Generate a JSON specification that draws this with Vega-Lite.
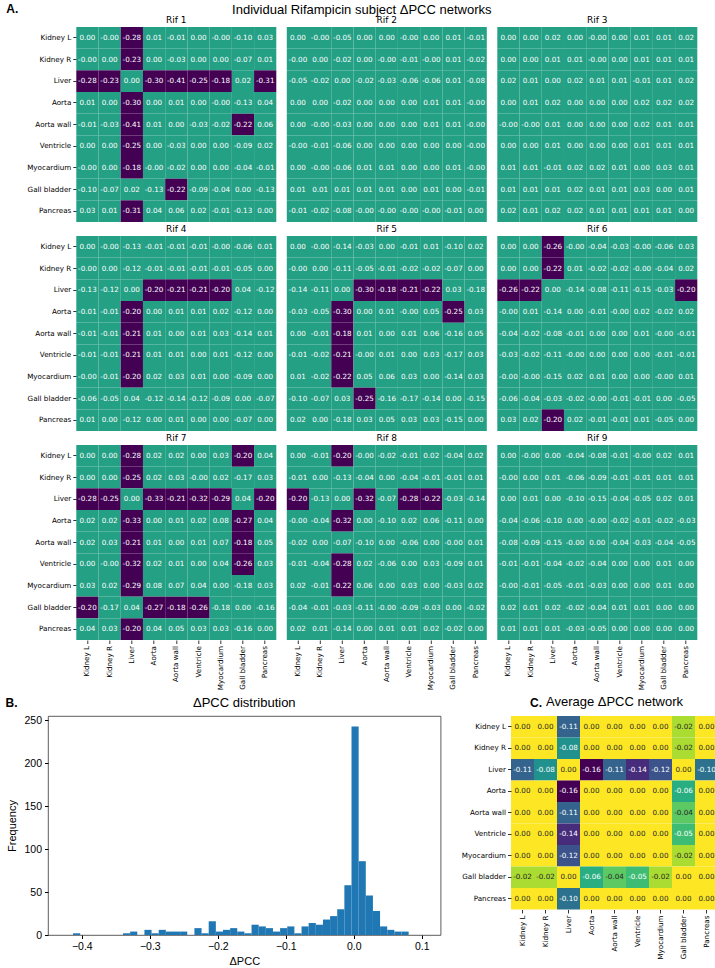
{
"$schema": "https://vega.github.io/schema/vega-lite/v6.json",
"padding": {"left": 5, "top": 3, "right": 0, "bottom": 0},
"background": "white",
"title": {"text": "Individual Rifampicin subject ΔPCC networks", "anchor": "middle", "font": "Liberation Sans", "fontSize": 13, "fontWeight": "normal", "color": "#000", "offset": -14},
"config": {
  "view": {"stroke": null},
  "font": "DejaVu Sans",
  "axis": {"grid": false, "tickColor": "#000", "labelColor": "#000", "domainColor": "#000", "titleColor": "#000", "titleFontWeight": "normal"},
  "title": {"color": "#000", "fontWeight": "normal"},
  "locale": {"number": {"decimal": ".", "thousands": ",", "grouping": [3], "currency": ["$", ""], "minus": "-"}}
},
"datasets": {
"hist": [
{"b0":-0.4129,"b1":-0.4024,"n":2},{"b0":-0.3394,"b1":-0.3289,"n":2},{"b0":-0.3289,"b1":-0.3184,"n":4},{"b0":-0.3079,"b1":-0.2974,"n":6},{"b0":-0.2974,"b1":-0.2869,"n":2},{"b0":-0.2869,"b1":-0.2764,"n":6},{"b0":-0.2764,"b1":-0.2659,"n":4},{"b0":-0.2659,"b1":-0.2554,"n":4},{"b0":-0.2554,"b1":-0.2449,"n":4},{"b0":-0.2344,"b1":-0.2239,"n":8},{"b0":-0.2239,"b1":-0.2134,"n":2},{"b0":-0.2134,"b1":-0.2029,"n":16},{"b0":-0.2029,"b1":-0.1924,"n":4},{"b0":-0.1924,"b1":-0.1819,"n":6},{"b0":-0.1819,"b1":-0.1714,"n":8},{"b0":-0.1714,"b1":-0.1609,"n":4},{"b0":-0.1609,"b1":-0.1504,"n":2},{"b0":-0.1504,"b1":-0.1399,"n":12},{"b0":-0.1399,"b1":-0.1294,"n":10},{"b0":-0.1294,"b1":-0.1189,"n":8},{"b0":-0.1189,"b1":-0.1084,"n":4},{"b0":-0.1084,"b1":-0.0979,"n":8},{"b0":-0.0979,"b1":-0.0874,"n":10},{"b0":-0.0874,"b1":-0.0769,"n":2},{"b0":-0.0769,"b1":-0.0664,"n":10},{"b0":-0.0664,"b1":-0.0559,"n":14},{"b0":-0.0559,"b1":-0.0454,"n":12},{"b0":-0.0454,"b1":-0.0349,"n":18},{"b0":-0.0349,"b1":-0.0244,"n":22},{"b0":-0.0244,"b1":-0.0139,"n":30},{"b0":-0.0139,"b1":-0.0034,"n":58},{"b0":-0.0034,"b1":0.0071,"n":243},{"b0":0.0071,"b1":0.0176,"n":86},{"b0":0.0176,"b1":0.0281,"n":46},{"b0":0.0281,"b1":0.0386,"n":28},{"b0":0.0386,"b1":0.0491,"n":10},{"b0":0.0491,"b1":0.0596,"n":6},{"b0":0.0596,"b1":0.0701,"n":4},{"b0":0.0701,"b1":0.0806,"n":4}
],
"avg": [
{"r":"Kidney L","c":"Kidney L","v":0},{"r":"Kidney L","c":"Kidney R","v":0},{"r":"Kidney L","c":"Liver","v":-0.11},{"r":"Kidney L","c":"Aorta","v":0},{"r":"Kidney L","c":"Aorta wall","v":0},{"r":"Kidney L","c":"Ventricle","v":0},{"r":"Kidney L","c":"Myocardium","v":0},{"r":"Kidney L","c":"Gall bladder","v":-0.02},{"r":"Kidney L","c":"Pancreas","v":0},
{"r":"Kidney R","c":"Kidney L","v":0},{"r":"Kidney R","c":"Kidney R","v":0},{"r":"Kidney R","c":"Liver","v":-0.08},{"r":"Kidney R","c":"Aorta","v":0},{"r":"Kidney R","c":"Aorta wall","v":0},{"r":"Kidney R","c":"Ventricle","v":0},{"r":"Kidney R","c":"Myocardium","v":0},{"r":"Kidney R","c":"Gall bladder","v":-0.02},{"r":"Kidney R","c":"Pancreas","v":0},
{"r":"Liver","c":"Kidney L","v":-0.11},{"r":"Liver","c":"Kidney R","v":-0.08},{"r":"Liver","c":"Liver","v":0},{"r":"Liver","c":"Aorta","v":-0.16},{"r":"Liver","c":"Aorta wall","v":-0.11},{"r":"Liver","c":"Ventricle","v":-0.14},{"r":"Liver","c":"Myocardium","v":-0.12},{"r":"Liver","c":"Gall bladder","v":0},{"r":"Liver","c":"Pancreas","v":-0.1},
{"r":"Aorta","c":"Kidney L","v":0},{"r":"Aorta","c":"Kidney R","v":0},{"r":"Aorta","c":"Liver","v":-0.16},{"r":"Aorta","c":"Aorta","v":0},{"r":"Aorta","c":"Aorta wall","v":0},{"r":"Aorta","c":"Ventricle","v":0},{"r":"Aorta","c":"Myocardium","v":0},{"r":"Aorta","c":"Gall bladder","v":-0.06},{"r":"Aorta","c":"Pancreas","v":0},
{"r":"Aorta wall","c":"Kidney L","v":0},{"r":"Aorta wall","c":"Kidney R","v":0},{"r":"Aorta wall","c":"Liver","v":-0.11},{"r":"Aorta wall","c":"Aorta","v":0},{"r":"Aorta wall","c":"Aorta wall","v":0},{"r":"Aorta wall","c":"Ventricle","v":0},{"r":"Aorta wall","c":"Myocardium","v":0},{"r":"Aorta wall","c":"Gall bladder","v":-0.04},{"r":"Aorta wall","c":"Pancreas","v":0},
{"r":"Ventricle","c":"Kidney L","v":0},{"r":"Ventricle","c":"Kidney R","v":0},{"r":"Ventricle","c":"Liver","v":-0.14},{"r":"Ventricle","c":"Aorta","v":0},{"r":"Ventricle","c":"Aorta wall","v":0},{"r":"Ventricle","c":"Ventricle","v":0},{"r":"Ventricle","c":"Myocardium","v":0},{"r":"Ventricle","c":"Gall bladder","v":-0.05},{"r":"Ventricle","c":"Pancreas","v":0},
{"r":"Myocardium","c":"Kidney L","v":0},{"r":"Myocardium","c":"Kidney R","v":0},{"r":"Myocardium","c":"Liver","v":-0.12},{"r":"Myocardium","c":"Aorta","v":0},{"r":"Myocardium","c":"Aorta wall","v":0},{"r":"Myocardium","c":"Ventricle","v":0},{"r":"Myocardium","c":"Myocardium","v":0},{"r":"Myocardium","c":"Gall bladder","v":-0.02},{"r":"Myocardium","c":"Pancreas","v":0},
{"r":"Gall bladder","c":"Kidney L","v":-0.02},{"r":"Gall bladder","c":"Kidney R","v":-0.02},{"r":"Gall bladder","c":"Liver","v":0},{"r":"Gall bladder","c":"Aorta","v":-0.06},{"r":"Gall bladder","c":"Aorta wall","v":-0.04},{"r":"Gall bladder","c":"Ventricle","v":-0.05},{"r":"Gall bladder","c":"Myocardium","v":-0.02},{"r":"Gall bladder","c":"Gall bladder","v":0},{"r":"Gall bladder","c":"Pancreas","v":0},
{"r":"Pancreas","c":"Kidney L","v":0},{"r":"Pancreas","c":"Kidney R","v":0},{"r":"Pancreas","c":"Liver","v":-0.1},{"r":"Pancreas","c":"Aorta","v":0},{"r":"Pancreas","c":"Aorta wall","v":0},{"r":"Pancreas","c":"Ventricle","v":0},{"r":"Pancreas","c":"Myocardium","v":0},{"r":"Pancreas","c":"Gall bladder","v":0},{"r":"Pancreas","c":"Pancreas","v":0}
],
"rif": [
{"s":"Rif 1","r":"Kidney L","c":"Kidney L","v":0},{"s":"Rif 1","r":"Kidney L","c":"Kidney R","v":-0.001},{"s":"Rif 1","r":"Kidney L","c":"Liver","v":-0.28},{"s":"Rif 1","r":"Kidney L","c":"Aorta","v":0.01},{"s":"Rif 1","r":"Kidney L","c":"Aorta wall","v":-0.01},{"s":"Rif 1","r":"Kidney L","c":"Ventricle","v":0},{"s":"Rif 1","r":"Kidney L","c":"Myocardium","v":-0.001},{"s":"Rif 1","r":"Kidney L","c":"Gall bladder","v":-0.1},{"s":"Rif 1","r":"Kidney L","c":"Pancreas","v":0.03},
{"s":"Rif 1","r":"Kidney R","c":"Kidney L","v":-0.001},{"s":"Rif 1","r":"Kidney R","c":"Kidney R","v":0},{"s":"Rif 1","r":"Kidney R","c":"Liver","v":-0.23},{"s":"Rif 1","r":"Kidney R","c":"Aorta","v":0},{"s":"Rif 1","r":"Kidney R","c":"Aorta wall","v":-0.03},{"s":"Rif 1","r":"Kidney R","c":"Ventricle","v":0},{"s":"Rif 1","r":"Kidney R","c":"Myocardium","v":0},{"s":"Rif 1","r":"Kidney R","c":"Gall bladder","v":-0.07},{"s":"Rif 1","r":"Kidney R","c":"Pancreas","v":0.01},
{"s":"Rif 1","r":"Liver","c":"Kidney L","v":-0.28},{"s":"Rif 1","r":"Liver","c":"Kidney R","v":-0.23},{"s":"Rif 1","r":"Liver","c":"Liver","v":0},{"s":"Rif 1","r":"Liver","c":"Aorta","v":-0.3},{"s":"Rif 1","r":"Liver","c":"Aorta wall","v":-0.41},{"s":"Rif 1","r":"Liver","c":"Ventricle","v":-0.25},{"s":"Rif 1","r":"Liver","c":"Myocardium","v":-0.18},{"s":"Rif 1","r":"Liver","c":"Gall bladder","v":0.02},{"s":"Rif 1","r":"Liver","c":"Pancreas","v":-0.31},
{"s":"Rif 1","r":"Aorta","c":"Kidney L","v":0.01},{"s":"Rif 1","r":"Aorta","c":"Kidney R","v":0},{"s":"Rif 1","r":"Aorta","c":"Liver","v":-0.3},{"s":"Rif 1","r":"Aorta","c":"Aorta","v":0},{"s":"Rif 1","r":"Aorta","c":"Aorta wall","v":0.01},{"s":"Rif 1","r":"Aorta","c":"Ventricle","v":0},{"s":"Rif 1","r":"Aorta","c":"Myocardium","v":-0.001},{"s":"Rif 1","r":"Aorta","c":"Gall bladder","v":-0.13},{"s":"Rif 1","r":"Aorta","c":"Pancreas","v":0.04},
{"s":"Rif 1","r":"Aorta wall","c":"Kidney L","v":-0.01},{"s":"Rif 1","r":"Aorta wall","c":"Kidney R","v":-0.03},{"s":"Rif 1","r":"Aorta wall","c":"Liver","v":-0.41},{"s":"Rif 1","r":"Aorta wall","c":"Aorta","v":0.01},{"s":"Rif 1","r":"Aorta wall","c":"Aorta wall","v":0},{"s":"Rif 1","r":"Aorta wall","c":"Ventricle","v":-0.03},{"s":"Rif 1","r":"Aorta wall","c":"Myocardium","v":-0.02},{"s":"Rif 1","r":"Aorta wall","c":"Gall bladder","v":-0.22},{"s":"Rif 1","r":"Aorta wall","c":"Pancreas","v":0.06},
{"s":"Rif 1","r":"Ventricle","c":"Kidney L","v":0},{"s":"Rif 1","r":"Ventricle","c":"Kidney R","v":0},{"s":"Rif 1","r":"Ventricle","c":"Liver","v":-0.25},{"s":"Rif 1","r":"Ventricle","c":"Aorta","v":0},{"s":"Rif 1","r":"Ventricle","c":"Aorta wall","v":-0.03},{"s":"Rif 1","r":"Ventricle","c":"Ventricle","v":0},{"s":"Rif 1","r":"Ventricle","c":"Myocardium","v":0},{"s":"Rif 1","r":"Ventricle","c":"Gall bladder","v":-0.09},{"s":"Rif 1","r":"Ventricle","c":"Pancreas","v":0.02},
{"s":"Rif 1","r":"Myocardium","c":"Kidney L","v":-0.001},{"s":"Rif 1","r":"Myocardium","c":"Kidney R","v":0},{"s":"Rif 1","r":"Myocardium","c":"Liver","v":-0.18},{"s":"Rif 1","r":"Myocardium","c":"Aorta","v":-0.001},{"s":"Rif 1","r":"Myocardium","c":"Aorta wall","v":-0.02},{"s":"Rif 1","r":"Myocardium","c":"Ventricle","v":0},{"s":"Rif 1","r":"Myocardium","c":"Myocardium","v":0},{"s":"Rif 1","r":"Myocardium","c":"Gall bladder","v":-0.04},{"s":"Rif 1","r":"Myocardium","c":"Pancreas","v":-0.01},
{"s":"Rif 1","r":"Gall bladder","c":"Kidney L","v":-0.1},{"s":"Rif 1","r":"Gall bladder","c":"Kidney R","v":-0.07},{"s":"Rif 1","r":"Gall bladder","c":"Liver","v":0.02},{"s":"Rif 1","r":"Gall bladder","c":"Aorta","v":-0.13},{"s":"Rif 1","r":"Gall bladder","c":"Aorta wall","v":-0.22},{"s":"Rif 1","r":"Gall bladder","c":"Ventricle","v":-0.09},{"s":"Rif 1","r":"Gall bladder","c":"Myocardium","v":-0.04},{"s":"Rif 1","r":"Gall bladder","c":"Gall bladder","v":0},{"s":"Rif 1","r":"Gall bladder","c":"Pancreas","v":-0.13},
{"s":"Rif 1","r":"Pancreas","c":"Kidney L","v":0.03},{"s":"Rif 1","r":"Pancreas","c":"Kidney R","v":0.01},{"s":"Rif 1","r":"Pancreas","c":"Liver","v":-0.31},{"s":"Rif 1","r":"Pancreas","c":"Aorta","v":0.04},{"s":"Rif 1","r":"Pancreas","c":"Aorta wall","v":0.06},{"s":"Rif 1","r":"Pancreas","c":"Ventricle","v":0.02},{"s":"Rif 1","r":"Pancreas","c":"Myocardium","v":-0.01},{"s":"Rif 1","r":"Pancreas","c":"Gall bladder","v":-0.13},{"s":"Rif 1","r":"Pancreas","c":"Pancreas","v":0},

{"s":"Rif 2","r":"Kidney L","c":"Kidney L","v":0},{"s":"Rif 2","r":"Kidney L","c":"Kidney R","v":-0.001},{"s":"Rif 2","r":"Kidney L","c":"Liver","v":-0.05},{"s":"Rif 2","r":"Kidney L","c":"Aorta","v":0},{"s":"Rif 2","r":"Kidney L","c":"Aorta wall","v":0},{"s":"Rif 2","r":"Kidney L","c":"Ventricle","v":-0.001},{"s":"Rif 2","r":"Kidney L","c":"Myocardium","v":0},{"s":"Rif 2","r":"Kidney L","c":"Gall bladder","v":0.01},{"s":"Rif 2","r":"Kidney L","c":"Pancreas","v":-0.01},
{"s":"Rif 2","r":"Kidney R","c":"Kidney L","v":-0.001},{"s":"Rif 2","r":"Kidney R","c":"Kidney R","v":0},{"s":"Rif 2","r":"Kidney R","c":"Liver","v":-0.02},{"s":"Rif 2","r":"Kidney R","c":"Aorta","v":0},{"s":"Rif 2","r":"Kidney R","c":"Aorta wall","v":-0.001},{"s":"Rif 2","r":"Kidney R","c":"Ventricle","v":-0.01},{"s":"Rif 2","r":"Kidney R","c":"Myocardium","v":-0.001},{"s":"Rif 2","r":"Kidney R","c":"Gall bladder","v":0.01},{"s":"Rif 2","r":"Kidney R","c":"Pancreas","v":-0.02},
{"s":"Rif 2","r":"Liver","c":"Kidney L","v":-0.05},{"s":"Rif 2","r":"Liver","c":"Kidney R","v":-0.02},{"s":"Rif 2","r":"Liver","c":"Liver","v":0},{"s":"Rif 2","r":"Liver","c":"Aorta","v":-0.02},{"s":"Rif 2","r":"Liver","c":"Aorta wall","v":-0.03},{"s":"Rif 2","r":"Liver","c":"Ventricle","v":-0.06},{"s":"Rif 2","r":"Liver","c":"Myocardium","v":-0.06},{"s":"Rif 2","r":"Liver","c":"Gall bladder","v":0.01},{"s":"Rif 2","r":"Liver","c":"Pancreas","v":-0.08},
{"s":"Rif 2","r":"Aorta","c":"Kidney L","v":0},{"s":"Rif 2","r":"Aorta","c":"Kidney R","v":0},{"s":"Rif 2","r":"Aorta","c":"Liver","v":-0.02},{"s":"Rif 2","r":"Aorta","c":"Aorta","v":0},{"s":"Rif 2","r":"Aorta","c":"Aorta wall","v":0},{"s":"Rif 2","r":"Aorta","c":"Ventricle","v":0},{"s":"Rif 2","r":"Aorta","c":"Myocardium","v":0.01},{"s":"Rif 2","r":"Aorta","c":"Gall bladder","v":0.01},{"s":"Rif 2","r":"Aorta","c":"Pancreas","v":-0.001},
{"s":"Rif 2","r":"Aorta wall","c":"Kidney L","v":0},{"s":"Rif 2","r":"Aorta wall","c":"Kidney R","v":-0.001},{"s":"Rif 2","r":"Aorta wall","c":"Liver","v":-0.03},{"s":"Rif 2","r":"Aorta wall","c":"Aorta","v":0},{"s":"Rif 2","r":"Aorta wall","c":"Aorta wall","v":0},{"s":"Rif 2","r":"Aorta wall","c":"Ventricle","v":0},{"s":"Rif 2","r":"Aorta wall","c":"Myocardium","v":0.01},{"s":"Rif 2","r":"Aorta wall","c":"Gall bladder","v":0.01},{"s":"Rif 2","r":"Aorta wall","c":"Pancreas","v":-0.001},
{"s":"Rif 2","r":"Ventricle","c":"Kidney L","v":-0.001},{"s":"Rif 2","r":"Ventricle","c":"Kidney R","v":-0.01},{"s":"Rif 2","r":"Ventricle","c":"Liver","v":-0.06},{"s":"Rif 2","r":"Ventricle","c":"Aorta","v":0},{"s":"Rif 2","r":"Ventricle","c":"Aorta wall","v":0},{"s":"Rif 2","r":"Ventricle","c":"Ventricle","v":0},{"s":"Rif 2","r":"Ventricle","c":"Myocardium","v":0},{"s":"Rif 2","r":"Ventricle","c":"Gall bladder","v":0},{"s":"Rif 2","r":"Ventricle","c":"Pancreas","v":-0.001},
{"s":"Rif 2","r":"Myocardium","c":"Kidney L","v":0},{"s":"Rif 2","r":"Myocardium","c":"Kidney R","v":-0.001},{"s":"Rif 2","r":"Myocardium","c":"Liver","v":-0.06},{"s":"Rif 2","r":"Myocardium","c":"Aorta","v":0.01},{"s":"Rif 2","r":"Myocardium","c":"Aorta wall","v":0.01},{"s":"Rif 2","r":"Myocardium","c":"Ventricle","v":0},{"s":"Rif 2","r":"Myocardium","c":"Myocardium","v":0},{"s":"Rif 2","r":"Myocardium","c":"Gall bladder","v":0.01},{"s":"Rif 2","r":"Myocardium","c":"Pancreas","v":-0.001},
{"s":"Rif 2","r":"Gall bladder","c":"Kidney L","v":0.01},{"s":"Rif 2","r":"Gall bladder","c":"Kidney R","v":0.01},{"s":"Rif 2","r":"Gall bladder","c":"Liver","v":0.01},{"s":"Rif 2","r":"Gall bladder","c":"Aorta","v":0.01},{"s":"Rif 2","r":"Gall bladder","c":"Aorta wall","v":0.01},{"s":"Rif 2","r":"Gall bladder","c":"Ventricle","v":0},{"s":"Rif 2","r":"Gall bladder","c":"Myocardium","v":0.01},{"s":"Rif 2","r":"Gall bladder","c":"Gall bladder","v":0},{"s":"Rif 2","r":"Gall bladder","c":"Pancreas","v":-0.01},
{"s":"Rif 2","r":"Pancreas","c":"Kidney L","v":-0.01},{"s":"Rif 2","r":"Pancreas","c":"Kidney R","v":-0.02},{"s":"Rif 2","r":"Pancreas","c":"Liver","v":-0.08},{"s":"Rif 2","r":"Pancreas","c":"Aorta","v":-0.001},{"s":"Rif 2","r":"Pancreas","c":"Aorta wall","v":-0.001},{"s":"Rif 2","r":"Pancreas","c":"Ventricle","v":-0.001},{"s":"Rif 2","r":"Pancreas","c":"Myocardium","v":-0.001},{"s":"Rif 2","r":"Pancreas","c":"Gall bladder","v":-0.01},{"s":"Rif 2","r":"Pancreas","c":"Pancreas","v":0},

{"s":"Rif 3","r":"Kidney L","c":"Kidney L","v":0},{"s":"Rif 3","r":"Kidney L","c":"Kidney R","v":0},{"s":"Rif 3","r":"Kidney L","c":"Liver","v":0.02},{"s":"Rif 3","r":"Kidney L","c":"Aorta","v":0},{"s":"Rif 3","r":"Kidney L","c":"Aorta wall","v":-0.001},{"s":"Rif 3","r":"Kidney L","c":"Ventricle","v":0},{"s":"Rif 3","r":"Kidney L","c":"Myocardium","v":0.01},{"s":"Rif 3","r":"Kidney L","c":"Gall bladder","v":0.01},{"s":"Rif 3","r":"Kidney L","c":"Pancreas","v":0.02},
{"s":"Rif 3","r":"Kidney R","c":"Kidney L","v":0},{"s":"Rif 3","r":"Kidney R","c":"Kidney R","v":0},{"s":"Rif 3","r":"Kidney R","c":"Liver","v":0.01},{"s":"Rif 3","r":"Kidney R","c":"Aorta","v":0.01},{"s":"Rif 3","r":"Kidney R","c":"Aorta wall","v":-0.001},{"s":"Rif 3","r":"Kidney R","c":"Ventricle","v":0},{"s":"Rif 3","r":"Kidney R","c":"Myocardium","v":0.01},{"s":"Rif 3","r":"Kidney R","c":"Gall bladder","v":0.01},{"s":"Rif 3","r":"Kidney R","c":"Pancreas","v":0.01},
{"s":"Rif 3","r":"Liver","c":"Kidney L","v":0.02},{"s":"Rif 3","r":"Liver","c":"Kidney R","v":0.01},{"s":"Rif 3","r":"Liver","c":"Liver","v":0},{"s":"Rif 3","r":"Liver","c":"Aorta","v":0.02},{"s":"Rif 3","r":"Liver","c":"Aorta wall","v":0.01},{"s":"Rif 3","r":"Liver","c":"Ventricle","v":0.01},{"s":"Rif 3","r":"Liver","c":"Myocardium","v":-0.01},{"s":"Rif 3","r":"Liver","c":"Gall bladder","v":0.01},{"s":"Rif 3","r":"Liver","c":"Pancreas","v":0.02},
{"s":"Rif 3","r":"Aorta","c":"Kidney L","v":0},{"s":"Rif 3","r":"Aorta","c":"Kidney R","v":0.01},{"s":"Rif 3","r":"Aorta","c":"Liver","v":0.02},{"s":"Rif 3","r":"Aorta","c":"Aorta","v":0},{"s":"Rif 3","r":"Aorta","c":"Aorta wall","v":0},{"s":"Rif 3","r":"Aorta","c":"Ventricle","v":0},{"s":"Rif 3","r":"Aorta","c":"Myocardium","v":0.02},{"s":"Rif 3","r":"Aorta","c":"Gall bladder","v":0.02},{"s":"Rif 3","r":"Aorta","c":"Pancreas","v":0.02},
{"s":"Rif 3","r":"Aorta wall","c":"Kidney L","v":-0.001},{"s":"Rif 3","r":"Aorta wall","c":"Kidney R","v":-0.001},{"s":"Rif 3","r":"Aorta wall","c":"Liver","v":0.01},{"s":"Rif 3","r":"Aorta wall","c":"Aorta","v":0},{"s":"Rif 3","r":"Aorta wall","c":"Aorta wall","v":0},{"s":"Rif 3","r":"Aorta wall","c":"Ventricle","v":0},{"s":"Rif 3","r":"Aorta wall","c":"Myocardium","v":0.02},{"s":"Rif 3","r":"Aorta wall","c":"Gall bladder","v":0.01},{"s":"Rif 3","r":"Aorta wall","c":"Pancreas","v":0.01},
{"s":"Rif 3","r":"Ventricle","c":"Kidney L","v":0},{"s":"Rif 3","r":"Ventricle","c":"Kidney R","v":0},{"s":"Rif 3","r":"Ventricle","c":"Liver","v":0.01},{"s":"Rif 3","r":"Ventricle","c":"Aorta","v":0},{"s":"Rif 3","r":"Ventricle","c":"Aorta wall","v":0},{"s":"Rif 3","r":"Ventricle","c":"Ventricle","v":0},{"s":"Rif 3","r":"Ventricle","c":"Myocardium","v":0.01},{"s":"Rif 3","r":"Ventricle","c":"Gall bladder","v":0.01},{"s":"Rif 3","r":"Ventricle","c":"Pancreas","v":0.01},
{"s":"Rif 3","r":"Myocardium","c":"Kidney L","v":0.01},{"s":"Rif 3","r":"Myocardium","c":"Kidney R","v":0.01},{"s":"Rif 3","r":"Myocardium","c":"Liver","v":-0.01},{"s":"Rif 3","r":"Myocardium","c":"Aorta","v":0.02},{"s":"Rif 3","r":"Myocardium","c":"Aorta wall","v":0.02},{"s":"Rif 3","r":"Myocardium","c":"Ventricle","v":0.01},{"s":"Rif 3","r":"Myocardium","c":"Myocardium","v":0},{"s":"Rif 3","r":"Myocardium","c":"Gall bladder","v":0.03},{"s":"Rif 3","r":"Myocardium","c":"Pancreas","v":0.01},
{"s":"Rif 3","r":"Gall bladder","c":"Kidney L","v":0.01},{"s":"Rif 3","r":"Gall bladder","c":"Kidney R","v":0.01},{"s":"Rif 3","r":"Gall bladder","c":"Liver","v":0.01},{"s":"Rif 3","r":"Gall bladder","c":"Aorta","v":0.02},{"s":"Rif 3","r":"Gall bladder","c":"Aorta wall","v":0.01},{"s":"Rif 3","r":"Gall bladder","c":"Ventricle","v":0.01},{"s":"Rif 3","r":"Gall bladder","c":"Myocardium","v":0.03},{"s":"Rif 3","r":"Gall bladder","c":"Gall bladder","v":0},{"s":"Rif 3","r":"Gall bladder","c":"Pancreas","v":0.01},
{"s":"Rif 3","r":"Pancreas","c":"Kidney L","v":0.02},{"s":"Rif 3","r":"Pancreas","c":"Kidney R","v":0.01},{"s":"Rif 3","r":"Pancreas","c":"Liver","v":0.02},{"s":"Rif 3","r":"Pancreas","c":"Aorta","v":0.02},{"s":"Rif 3","r":"Pancreas","c":"Aorta wall","v":0.01},{"s":"Rif 3","r":"Pancreas","c":"Ventricle","v":0.01},{"s":"Rif 3","r":"Pancreas","c":"Myocardium","v":0.01},{"s":"Rif 3","r":"Pancreas","c":"Gall bladder","v":0.01},{"s":"Rif 3","r":"Pancreas","c":"Pancreas","v":0},

{"s":"Rif 4","r":"Kidney L","c":"Kidney L","v":0},{"s":"Rif 4","r":"Kidney L","c":"Kidney R","v":-0.001},{"s":"Rif 4","r":"Kidney L","c":"Liver","v":-0.13},{"s":"Rif 4","r":"Kidney L","c":"Aorta","v":-0.01},{"s":"Rif 4","r":"Kidney L","c":"Aorta wall","v":-0.01},{"s":"Rif 4","r":"Kidney L","c":"Ventricle","v":-0.01},{"s":"Rif 4","r":"Kidney L","c":"Myocardium","v":-0.001},{"s":"Rif 4","r":"Kidney L","c":"Gall bladder","v":-0.06},{"s":"Rif 4","r":"Kidney L","c":"Pancreas","v":0.01},
{"s":"Rif 4","r":"Kidney R","c":"Kidney L","v":-0.001},{"s":"Rif 4","r":"Kidney R","c":"Kidney R","v":0},{"s":"Rif 4","r":"Kidney R","c":"Liver","v":-0.12},{"s":"Rif 4","r":"Kidney R","c":"Aorta","v":-0.01},{"s":"Rif 4","r":"Kidney R","c":"Aorta wall","v":-0.01},{"s":"Rif 4","r":"Kidney R","c":"Ventricle","v":-0.01},{"s":"Rif 4","r":"Kidney R","c":"Myocardium","v":-0.01},{"s":"Rif 4","r":"Kidney R","c":"Gall bladder","v":-0.05},{"s":"Rif 4","r":"Kidney R","c":"Pancreas","v":0},
{"s":"Rif 4","r":"Liver","c":"Kidney L","v":-0.13},{"s":"Rif 4","r":"Liver","c":"Kidney R","v":-0.12},{"s":"Rif 4","r":"Liver","c":"Liver","v":0},{"s":"Rif 4","r":"Liver","c":"Aorta","v":-0.2},{"s":"Rif 4","r":"Liver","c":"Aorta wall","v":-0.21},{"s":"Rif 4","r":"Liver","c":"Ventricle","v":-0.21},{"s":"Rif 4","r":"Liver","c":"Myocardium","v":-0.2},{"s":"Rif 4","r":"Liver","c":"Gall bladder","v":0.04},{"s":"Rif 4","r":"Liver","c":"Pancreas","v":-0.12},
{"s":"Rif 4","r":"Aorta","c":"Kidney L","v":-0.01},{"s":"Rif 4","r":"Aorta","c":"Kidney R","v":-0.01},{"s":"Rif 4","r":"Aorta","c":"Liver","v":-0.2},{"s":"Rif 4","r":"Aorta","c":"Aorta","v":0},{"s":"Rif 4","r":"Aorta","c":"Aorta wall","v":0.01},{"s":"Rif 4","r":"Aorta","c":"Ventricle","v":0.01},{"s":"Rif 4","r":"Aorta","c":"Myocardium","v":0.02},{"s":"Rif 4","r":"Aorta","c":"Gall bladder","v":-0.12},{"s":"Rif 4","r":"Aorta","c":"Pancreas","v":0},
{"s":"Rif 4","r":"Aorta wall","c":"Kidney L","v":-0.01},{"s":"Rif 4","r":"Aorta wall","c":"Kidney R","v":-0.01},{"s":"Rif 4","r":"Aorta wall","c":"Liver","v":-0.21},{"s":"Rif 4","r":"Aorta wall","c":"Aorta","v":0.01},{"s":"Rif 4","r":"Aorta wall","c":"Aorta wall","v":0},{"s":"Rif 4","r":"Aorta wall","c":"Ventricle","v":0.01},{"s":"Rif 4","r":"Aorta wall","c":"Myocardium","v":0.03},{"s":"Rif 4","r":"Aorta wall","c":"Gall bladder","v":-0.14},{"s":"Rif 4","r":"Aorta wall","c":"Pancreas","v":0.01},
{"s":"Rif 4","r":"Ventricle","c":"Kidney L","v":-0.01},{"s":"Rif 4","r":"Ventricle","c":"Kidney R","v":-0.01},{"s":"Rif 4","r":"Ventricle","c":"Liver","v":-0.21},{"s":"Rif 4","r":"Ventricle","c":"Aorta","v":0.01},{"s":"Rif 4","r":"Ventricle","c":"Aorta wall","v":0.01},{"s":"Rif 4","r":"Ventricle","c":"Ventricle","v":0},{"s":"Rif 4","r":"Ventricle","c":"Myocardium","v":0.01},{"s":"Rif 4","r":"Ventricle","c":"Gall bladder","v":-0.12},{"s":"Rif 4","r":"Ventricle","c":"Pancreas","v":0},
{"s":"Rif 4","r":"Myocardium","c":"Kidney L","v":-0.001},{"s":"Rif 4","r":"Myocardium","c":"Kidney R","v":-0.01},{"s":"Rif 4","r":"Myocardium","c":"Liver","v":-0.2},{"s":"Rif 4","r":"Myocardium","c":"Aorta","v":0.02},{"s":"Rif 4","r":"Myocardium","c":"Aorta wall","v":0.03},{"s":"Rif 4","r":"Myocardium","c":"Ventricle","v":0.01},{"s":"Rif 4","r":"Myocardium","c":"Myocardium","v":0},{"s":"Rif 4","r":"Myocardium","c":"Gall bladder","v":-0.09},{"s":"Rif 4","r":"Myocardium","c":"Pancreas","v":0},
{"s":"Rif 4","r":"Gall bladder","c":"Kidney L","v":-0.06},{"s":"Rif 4","r":"Gall bladder","c":"Kidney R","v":-0.05},{"s":"Rif 4","r":"Gall bladder","c":"Liver","v":0.04},{"s":"Rif 4","r":"Gall bladder","c":"Aorta","v":-0.12},{"s":"Rif 4","r":"Gall bladder","c":"Aorta wall","v":-0.14},{"s":"Rif 4","r":"Gall bladder","c":"Ventricle","v":-0.12},{"s":"Rif 4","r":"Gall bladder","c":"Myocardium","v":-0.09},{"s":"Rif 4","r":"Gall bladder","c":"Gall bladder","v":0},{"s":"Rif 4","r":"Gall bladder","c":"Pancreas","v":-0.07},
{"s":"Rif 4","r":"Pancreas","c":"Kidney L","v":0.01},{"s":"Rif 4","r":"Pancreas","c":"Kidney R","v":0},{"s":"Rif 4","r":"Pancreas","c":"Liver","v":-0.12},{"s":"Rif 4","r":"Pancreas","c":"Aorta","v":0},{"s":"Rif 4","r":"Pancreas","c":"Aorta wall","v":0.01},{"s":"Rif 4","r":"Pancreas","c":"Ventricle","v":0},{"s":"Rif 4","r":"Pancreas","c":"Myocardium","v":0},{"s":"Rif 4","r":"Pancreas","c":"Gall bladder","v":-0.07},{"s":"Rif 4","r":"Pancreas","c":"Pancreas","v":0},

{"s":"Rif 5","r":"Kidney L","c":"Kidney L","v":0},{"s":"Rif 5","r":"Kidney L","c":"Kidney R","v":-0.001},{"s":"Rif 5","r":"Kidney L","c":"Liver","v":-0.14},{"s":"Rif 5","r":"Kidney L","c":"Aorta","v":-0.03},{"s":"Rif 5","r":"Kidney L","c":"Aorta wall","v":0},{"s":"Rif 5","r":"Kidney L","c":"Ventricle","v":-0.01},{"s":"Rif 5","r":"Kidney L","c":"Myocardium","v":0.01},{"s":"Rif 5","r":"Kidney L","c":"Gall bladder","v":-0.1},{"s":"Rif 5","r":"Kidney L","c":"Pancreas","v":0.02},
{"s":"Rif 5","r":"Kidney R","c":"Kidney L","v":-0.001},{"s":"Rif 5","r":"Kidney R","c":"Kidney R","v":0},{"s":"Rif 5","r":"Kidney R","c":"Liver","v":-0.11},{"s":"Rif 5","r":"Kidney R","c":"Aorta","v":-0.05},{"s":"Rif 5","r":"Kidney R","c":"Aorta wall","v":-0.01},{"s":"Rif 5","r":"Kidney R","c":"Ventricle","v":-0.02},{"s":"Rif 5","r":"Kidney R","c":"Myocardium","v":-0.02},{"s":"Rif 5","r":"Kidney R","c":"Gall bladder","v":-0.07},{"s":"Rif 5","r":"Kidney R","c":"Pancreas","v":0},
{"s":"Rif 5","r":"Liver","c":"Kidney L","v":-0.14},{"s":"Rif 5","r":"Liver","c":"Kidney R","v":-0.11},{"s":"Rif 5","r":"Liver","c":"Liver","v":0},{"s":"Rif 5","r":"Liver","c":"Aorta","v":-0.3},{"s":"Rif 5","r":"Liver","c":"Aorta wall","v":-0.18},{"s":"Rif 5","r":"Liver","c":"Ventricle","v":-0.21},{"s":"Rif 5","r":"Liver","c":"Myocardium","v":-0.22},{"s":"Rif 5","r":"Liver","c":"Gall bladder","v":0.03},{"s":"Rif 5","r":"Liver","c":"Pancreas","v":-0.176},
{"s":"Rif 5","r":"Aorta","c":"Kidney L","v":-0.03},{"s":"Rif 5","r":"Aorta","c":"Kidney R","v":-0.05},{"s":"Rif 5","r":"Aorta","c":"Liver","v":-0.3},{"s":"Rif 5","r":"Aorta","c":"Aorta","v":0},{"s":"Rif 5","r":"Aorta","c":"Aorta wall","v":0.01},{"s":"Rif 5","r":"Aorta","c":"Ventricle","v":-0.001},{"s":"Rif 5","r":"Aorta","c":"Myocardium","v":0.05},{"s":"Rif 5","r":"Aorta","c":"Gall bladder","v":-0.25},{"s":"Rif 5","r":"Aorta","c":"Pancreas","v":0.03},
{"s":"Rif 5","r":"Aorta wall","c":"Kidney L","v":0},{"s":"Rif 5","r":"Aorta wall","c":"Kidney R","v":-0.01},{"s":"Rif 5","r":"Aorta wall","c":"Liver","v":-0.18},{"s":"Rif 5","r":"Aorta wall","c":"Aorta","v":0.01},{"s":"Rif 5","r":"Aorta wall","c":"Aorta wall","v":0},{"s":"Rif 5","r":"Aorta wall","c":"Ventricle","v":0.01},{"s":"Rif 5","r":"Aorta wall","c":"Myocardium","v":0.06},{"s":"Rif 5","r":"Aorta wall","c":"Gall bladder","v":-0.16},{"s":"Rif 5","r":"Aorta wall","c":"Pancreas","v":0.05},
{"s":"Rif 5","r":"Ventricle","c":"Kidney L","v":-0.01},{"s":"Rif 5","r":"Ventricle","c":"Kidney R","v":-0.02},{"s":"Rif 5","r":"Ventricle","c":"Liver","v":-0.21},{"s":"Rif 5","r":"Ventricle","c":"Aorta","v":-0.001},{"s":"Rif 5","r":"Ventricle","c":"Aorta wall","v":0.01},{"s":"Rif 5","r":"Ventricle","c":"Ventricle","v":0},{"s":"Rif 5","r":"Ventricle","c":"Myocardium","v":0.03},{"s":"Rif 5","r":"Ventricle","c":"Gall bladder","v":-0.17},{"s":"Rif 5","r":"Ventricle","c":"Pancreas","v":0.03},
{"s":"Rif 5","r":"Myocardium","c":"Kidney L","v":0.01},{"s":"Rif 5","r":"Myocardium","c":"Kidney R","v":-0.02},{"s":"Rif 5","r":"Myocardium","c":"Liver","v":-0.22},{"s":"Rif 5","r":"Myocardium","c":"Aorta","v":0.05},{"s":"Rif 5","r":"Myocardium","c":"Aorta wall","v":0.06},{"s":"Rif 5","r":"Myocardium","c":"Ventricle","v":0.03},{"s":"Rif 5","r":"Myocardium","c":"Myocardium","v":0},{"s":"Rif 5","r":"Myocardium","c":"Gall bladder","v":-0.14},{"s":"Rif 5","r":"Myocardium","c":"Pancreas","v":0.03},
{"s":"Rif 5","r":"Gall bladder","c":"Kidney L","v":-0.1},{"s":"Rif 5","r":"Gall bladder","c":"Kidney R","v":-0.07},{"s":"Rif 5","r":"Gall bladder","c":"Liver","v":0.03},{"s":"Rif 5","r":"Gall bladder","c":"Aorta","v":-0.25},{"s":"Rif 5","r":"Gall bladder","c":"Aorta wall","v":-0.16},{"s":"Rif 5","r":"Gall bladder","c":"Ventricle","v":-0.17},{"s":"Rif 5","r":"Gall bladder","c":"Myocardium","v":-0.14},{"s":"Rif 5","r":"Gall bladder","c":"Gall bladder","v":0},{"s":"Rif 5","r":"Gall bladder","c":"Pancreas","v":-0.15},
{"s":"Rif 5","r":"Pancreas","c":"Kidney L","v":0.02},{"s":"Rif 5","r":"Pancreas","c":"Kidney R","v":0},{"s":"Rif 5","r":"Pancreas","c":"Liver","v":-0.176},{"s":"Rif 5","r":"Pancreas","c":"Aorta","v":0.03},{"s":"Rif 5","r":"Pancreas","c":"Aorta wall","v":0.05},{"s":"Rif 5","r":"Pancreas","c":"Ventricle","v":0.03},{"s":"Rif 5","r":"Pancreas","c":"Myocardium","v":0.03},{"s":"Rif 5","r":"Pancreas","c":"Gall bladder","v":-0.15},{"s":"Rif 5","r":"Pancreas","c":"Pancreas","v":0},

{"s":"Rif 6","r":"Kidney L","c":"Kidney L","v":0},{"s":"Rif 6","r":"Kidney L","c":"Kidney R","v":0},{"s":"Rif 6","r":"Kidney L","c":"Liver","v":-0.26},{"s":"Rif 6","r":"Kidney L","c":"Aorta","v":-0.001},{"s":"Rif 6","r":"Kidney L","c":"Aorta wall","v":-0.04},{"s":"Rif 6","r":"Kidney L","c":"Ventricle","v":-0.03},{"s":"Rif 6","r":"Kidney L","c":"Myocardium","v":-0.001},{"s":"Rif 6","r":"Kidney L","c":"Gall bladder","v":-0.06},{"s":"Rif 6","r":"Kidney L","c":"Pancreas","v":0.03},
{"s":"Rif 6","r":"Kidney R","c":"Kidney L","v":0},{"s":"Rif 6","r":"Kidney R","c":"Kidney R","v":0},{"s":"Rif 6","r":"Kidney R","c":"Liver","v":-0.22},{"s":"Rif 6","r":"Kidney R","c":"Aorta","v":0.01},{"s":"Rif 6","r":"Kidney R","c":"Aorta wall","v":-0.02},{"s":"Rif 6","r":"Kidney R","c":"Ventricle","v":-0.02},{"s":"Rif 6","r":"Kidney R","c":"Myocardium","v":-0.001},{"s":"Rif 6","r":"Kidney R","c":"Gall bladder","v":-0.04},{"s":"Rif 6","r":"Kidney R","c":"Pancreas","v":0.02},
{"s":"Rif 6","r":"Liver","c":"Kidney L","v":-0.26},{"s":"Rif 6","r":"Liver","c":"Kidney R","v":-0.22},{"s":"Rif 6","r":"Liver","c":"Liver","v":0},{"s":"Rif 6","r":"Liver","c":"Aorta","v":-0.14},{"s":"Rif 6","r":"Liver","c":"Aorta wall","v":-0.08},{"s":"Rif 6","r":"Liver","c":"Ventricle","v":-0.11},{"s":"Rif 6","r":"Liver","c":"Myocardium","v":-0.15},{"s":"Rif 6","r":"Liver","c":"Gall bladder","v":-0.03},{"s":"Rif 6","r":"Liver","c":"Pancreas","v":-0.2},
{"s":"Rif 6","r":"Aorta","c":"Kidney L","v":-0.001},{"s":"Rif 6","r":"Aorta","c":"Kidney R","v":0.01},{"s":"Rif 6","r":"Aorta","c":"Liver","v":-0.14},{"s":"Rif 6","r":"Aorta","c":"Aorta","v":0},{"s":"Rif 6","r":"Aorta","c":"Aorta wall","v":-0.01},{"s":"Rif 6","r":"Aorta","c":"Ventricle","v":-0.001},{"s":"Rif 6","r":"Aorta","c":"Myocardium","v":0.02},{"s":"Rif 6","r":"Aorta","c":"Gall bladder","v":-0.02},{"s":"Rif 6","r":"Aorta","c":"Pancreas","v":0.02},
{"s":"Rif 6","r":"Aorta wall","c":"Kidney L","v":-0.04},{"s":"Rif 6","r":"Aorta wall","c":"Kidney R","v":-0.02},{"s":"Rif 6","r":"Aorta wall","c":"Liver","v":-0.08},{"s":"Rif 6","r":"Aorta wall","c":"Aorta","v":-0.01},{"s":"Rif 6","r":"Aorta wall","c":"Aorta wall","v":0},{"s":"Rif 6","r":"Aorta wall","c":"Ventricle","v":0},{"s":"Rif 6","r":"Aorta wall","c":"Myocardium","v":0.01},{"s":"Rif 6","r":"Aorta wall","c":"Gall bladder","v":-0.001},{"s":"Rif 6","r":"Aorta wall","c":"Pancreas","v":-0.01},
{"s":"Rif 6","r":"Ventricle","c":"Kidney L","v":-0.03},{"s":"Rif 6","r":"Ventricle","c":"Kidney R","v":-0.02},{"s":"Rif 6","r":"Ventricle","c":"Liver","v":-0.11},{"s":"Rif 6","r":"Ventricle","c":"Aorta","v":-0.001},{"s":"Rif 6","r":"Ventricle","c":"Aorta wall","v":0},{"s":"Rif 6","r":"Ventricle","c":"Ventricle","v":0},{"s":"Rif 6","r":"Ventricle","c":"Myocardium","v":0},{"s":"Rif 6","r":"Ventricle","c":"Gall bladder","v":-0.01},{"s":"Rif 6","r":"Ventricle","c":"Pancreas","v":-0.01},
{"s":"Rif 6","r":"Myocardium","c":"Kidney L","v":-0.001},{"s":"Rif 6","r":"Myocardium","c":"Kidney R","v":-0.001},{"s":"Rif 6","r":"Myocardium","c":"Liver","v":-0.15},{"s":"Rif 6","r":"Myocardium","c":"Aorta","v":0.02},{"s":"Rif 6","r":"Myocardium","c":"Aorta wall","v":0.01},{"s":"Rif 6","r":"Myocardium","c":"Ventricle","v":0},{"s":"Rif 6","r":"Myocardium","c":"Myocardium","v":0},{"s":"Rif 6","r":"Myocardium","c":"Gall bladder","v":-0.001},{"s":"Rif 6","r":"Myocardium","c":"Pancreas","v":0.01},
{"s":"Rif 6","r":"Gall bladder","c":"Kidney L","v":-0.06},{"s":"Rif 6","r":"Gall bladder","c":"Kidney R","v":-0.04},{"s":"Rif 6","r":"Gall bladder","c":"Liver","v":-0.03},{"s":"Rif 6","r":"Gall bladder","c":"Aorta","v":-0.02},{"s":"Rif 6","r":"Gall bladder","c":"Aorta wall","v":-0.001},{"s":"Rif 6","r":"Gall bladder","c":"Ventricle","v":-0.01},{"s":"Rif 6","r":"Gall bladder","c":"Myocardium","v":-0.01},{"s":"Rif 6","r":"Gall bladder","c":"Gall bladder","v":0},{"s":"Rif 6","r":"Gall bladder","c":"Pancreas","v":-0.05},
{"s":"Rif 6","r":"Pancreas","c":"Kidney L","v":0.03},{"s":"Rif 6","r":"Pancreas","c":"Kidney R","v":0.02},{"s":"Rif 6","r":"Pancreas","c":"Liver","v":-0.2},{"s":"Rif 6","r":"Pancreas","c":"Aorta","v":0.02},{"s":"Rif 6","r":"Pancreas","c":"Aorta wall","v":-0.01},{"s":"Rif 6","r":"Pancreas","c":"Ventricle","v":-0.01},{"s":"Rif 6","r":"Pancreas","c":"Myocardium","v":0.01},{"s":"Rif 6","r":"Pancreas","c":"Gall bladder","v":-0.05},{"s":"Rif 6","r":"Pancreas","c":"Pancreas","v":0},

{"s":"Rif 7","r":"Kidney L","c":"Kidney L","v":0},{"s":"Rif 7","r":"Kidney L","c":"Kidney R","v":0},{"s":"Rif 7","r":"Kidney L","c":"Liver","v":-0.28},{"s":"Rif 7","r":"Kidney L","c":"Aorta","v":0.02},{"s":"Rif 7","r":"Kidney L","c":"Aorta wall","v":0.02},{"s":"Rif 7","r":"Kidney L","c":"Ventricle","v":0},{"s":"Rif 7","r":"Kidney L","c":"Myocardium","v":0.03},{"s":"Rif 7","r":"Kidney L","c":"Gall bladder","v":-0.2},{"s":"Rif 7","r":"Kidney L","c":"Pancreas","v":0.04},
{"s":"Rif 7","r":"Kidney R","c":"Kidney L","v":0},{"s":"Rif 7","r":"Kidney R","c":"Kidney R","v":0},{"s":"Rif 7","r":"Kidney R","c":"Liver","v":-0.25},{"s":"Rif 7","r":"Kidney R","c":"Aorta","v":0.02},{"s":"Rif 7","r":"Kidney R","c":"Aorta wall","v":0.03},{"s":"Rif 7","r":"Kidney R","c":"Ventricle","v":-0.001},{"s":"Rif 7","r":"Kidney R","c":"Myocardium","v":0.02},{"s":"Rif 7","r":"Kidney R","c":"Gall bladder","v":-0.17},{"s":"Rif 7","r":"Kidney R","c":"Pancreas","v":0.03},
{"s":"Rif 7","r":"Liver","c":"Kidney L","v":-0.28},{"s":"Rif 7","r":"Liver","c":"Kidney R","v":-0.25},{"s":"Rif 7","r":"Liver","c":"Liver","v":0},{"s":"Rif 7","r":"Liver","c":"Aorta","v":-0.33},{"s":"Rif 7","r":"Liver","c":"Aorta wall","v":-0.21},{"s":"Rif 7","r":"Liver","c":"Ventricle","v":-0.32},{"s":"Rif 7","r":"Liver","c":"Myocardium","v":-0.29},{"s":"Rif 7","r":"Liver","c":"Gall bladder","v":0.04},{"s":"Rif 7","r":"Liver","c":"Pancreas","v":-0.2},
{"s":"Rif 7","r":"Aorta","c":"Kidney L","v":0.02},{"s":"Rif 7","r":"Aorta","c":"Kidney R","v":0.02},{"s":"Rif 7","r":"Aorta","c":"Liver","v":-0.33},{"s":"Rif 7","r":"Aorta","c":"Aorta","v":0},{"s":"Rif 7","r":"Aorta","c":"Aorta wall","v":0.01},{"s":"Rif 7","r":"Aorta","c":"Ventricle","v":0.02},{"s":"Rif 7","r":"Aorta","c":"Myocardium","v":0.08},{"s":"Rif 7","r":"Aorta","c":"Gall bladder","v":-0.27},{"s":"Rif 7","r":"Aorta","c":"Pancreas","v":0.04},
{"s":"Rif 7","r":"Aorta wall","c":"Kidney L","v":0.02},{"s":"Rif 7","r":"Aorta wall","c":"Kidney R","v":0.03},{"s":"Rif 7","r":"Aorta wall","c":"Liver","v":-0.21},{"s":"Rif 7","r":"Aorta wall","c":"Aorta","v":0.01},{"s":"Rif 7","r":"Aorta wall","c":"Aorta wall","v":0},{"s":"Rif 7","r":"Aorta wall","c":"Ventricle","v":0.01},{"s":"Rif 7","r":"Aorta wall","c":"Myocardium","v":0.07},{"s":"Rif 7","r":"Aorta wall","c":"Gall bladder","v":-0.18},{"s":"Rif 7","r":"Aorta wall","c":"Pancreas","v":0.05},
{"s":"Rif 7","r":"Ventricle","c":"Kidney L","v":0},{"s":"Rif 7","r":"Ventricle","c":"Kidney R","v":-0.001},{"s":"Rif 7","r":"Ventricle","c":"Liver","v":-0.32},{"s":"Rif 7","r":"Ventricle","c":"Aorta","v":0.02},{"s":"Rif 7","r":"Ventricle","c":"Aorta wall","v":0.01},{"s":"Rif 7","r":"Ventricle","c":"Ventricle","v":0},{"s":"Rif 7","r":"Ventricle","c":"Myocardium","v":0.04},{"s":"Rif 7","r":"Ventricle","c":"Gall bladder","v":-0.26},{"s":"Rif 7","r":"Ventricle","c":"Pancreas","v":0.03},
{"s":"Rif 7","r":"Myocardium","c":"Kidney L","v":0.03},{"s":"Rif 7","r":"Myocardium","c":"Kidney R","v":0.02},{"s":"Rif 7","r":"Myocardium","c":"Liver","v":-0.29},{"s":"Rif 7","r":"Myocardium","c":"Aorta","v":0.08},{"s":"Rif 7","r":"Myocardium","c":"Aorta wall","v":0.07},{"s":"Rif 7","r":"Myocardium","c":"Ventricle","v":0.04},{"s":"Rif 7","r":"Myocardium","c":"Myocardium","v":0},{"s":"Rif 7","r":"Myocardium","c":"Gall bladder","v":-0.176},{"s":"Rif 7","r":"Myocardium","c":"Pancreas","v":0.03},
{"s":"Rif 7","r":"Gall bladder","c":"Kidney L","v":-0.2},{"s":"Rif 7","r":"Gall bladder","c":"Kidney R","v":-0.17},{"s":"Rif 7","r":"Gall bladder","c":"Liver","v":0.04},{"s":"Rif 7","r":"Gall bladder","c":"Aorta","v":-0.27},{"s":"Rif 7","r":"Gall bladder","c":"Aorta wall","v":-0.18},{"s":"Rif 7","r":"Gall bladder","c":"Ventricle","v":-0.26},{"s":"Rif 7","r":"Gall bladder","c":"Myocardium","v":-0.176},{"s":"Rif 7","r":"Gall bladder","c":"Gall bladder","v":0},{"s":"Rif 7","r":"Gall bladder","c":"Pancreas","v":-0.16},
{"s":"Rif 7","r":"Pancreas","c":"Kidney L","v":0.04},{"s":"Rif 7","r":"Pancreas","c":"Kidney R","v":0.03},{"s":"Rif 7","r":"Pancreas","c":"Liver","v":-0.2},{"s":"Rif 7","r":"Pancreas","c":"Aorta","v":0.04},{"s":"Rif 7","r":"Pancreas","c":"Aorta wall","v":0.05},{"s":"Rif 7","r":"Pancreas","c":"Ventricle","v":0.03},{"s":"Rif 7","r":"Pancreas","c":"Myocardium","v":0.03},{"s":"Rif 7","r":"Pancreas","c":"Gall bladder","v":-0.16},{"s":"Rif 7","r":"Pancreas","c":"Pancreas","v":0},

{"s":"Rif 8","r":"Kidney L","c":"Kidney L","v":0},{"s":"Rif 8","r":"Kidney L","c":"Kidney R","v":-0.01},{"s":"Rif 8","r":"Kidney L","c":"Liver","v":-0.2},{"s":"Rif 8","r":"Kidney L","c":"Aorta","v":-0.001},{"s":"Rif 8","r":"Kidney L","c":"Aorta wall","v":-0.02},{"s":"Rif 8","r":"Kidney L","c":"Ventricle","v":-0.01},{"s":"Rif 8","r":"Kidney L","c":"Myocardium","v":0.02},{"s":"Rif 8","r":"Kidney L","c":"Gall bladder","v":-0.04},{"s":"Rif 8","r":"Kidney L","c":"Pancreas","v":0.02},
{"s":"Rif 8","r":"Kidney R","c":"Kidney L","v":-0.01},{"s":"Rif 8","r":"Kidney R","c":"Kidney R","v":0},{"s":"Rif 8","r":"Kidney R","c":"Liver","v":-0.13},{"s":"Rif 8","r":"Kidney R","c":"Aorta","v":-0.04},{"s":"Rif 8","r":"Kidney R","c":"Aorta wall","v":0},{"s":"Rif 8","r":"Kidney R","c":"Ventricle","v":-0.04},{"s":"Rif 8","r":"Kidney R","c":"Myocardium","v":-0.01},{"s":"Rif 8","r":"Kidney R","c":"Gall bladder","v":-0.01},{"s":"Rif 8","r":"Kidney R","c":"Pancreas","v":0.01},
{"s":"Rif 8","r":"Liver","c":"Kidney L","v":-0.2},{"s":"Rif 8","r":"Liver","c":"Kidney R","v":-0.13},{"s":"Rif 8","r":"Liver","c":"Liver","v":0},{"s":"Rif 8","r":"Liver","c":"Aorta","v":-0.32},{"s":"Rif 8","r":"Liver","c":"Aorta wall","v":-0.07},{"s":"Rif 8","r":"Liver","c":"Ventricle","v":-0.28},{"s":"Rif 8","r":"Liver","c":"Myocardium","v":-0.22},{"s":"Rif 8","r":"Liver","c":"Gall bladder","v":-0.03},{"s":"Rif 8","r":"Liver","c":"Pancreas","v":-0.14},
{"s":"Rif 8","r":"Aorta","c":"Kidney L","v":-0.001},{"s":"Rif 8","r":"Aorta","c":"Kidney R","v":-0.04},{"s":"Rif 8","r":"Aorta","c":"Liver","v":-0.32},{"s":"Rif 8","r":"Aorta","c":"Aorta","v":0},{"s":"Rif 8","r":"Aorta","c":"Aorta wall","v":-0.1},{"s":"Rif 8","r":"Aorta","c":"Ventricle","v":0.02},{"s":"Rif 8","r":"Aorta","c":"Myocardium","v":0.06},{"s":"Rif 8","r":"Aorta","c":"Gall bladder","v":-0.11},{"s":"Rif 8","r":"Aorta","c":"Pancreas","v":0},
{"s":"Rif 8","r":"Aorta wall","c":"Kidney L","v":-0.02},{"s":"Rif 8","r":"Aorta wall","c":"Kidney R","v":0},{"s":"Rif 8","r":"Aorta wall","c":"Liver","v":-0.07},{"s":"Rif 8","r":"Aorta wall","c":"Aorta","v":-0.1},{"s":"Rif 8","r":"Aorta wall","c":"Aorta wall","v":0},{"s":"Rif 8","r":"Aorta wall","c":"Ventricle","v":-0.06},{"s":"Rif 8","r":"Aorta wall","c":"Myocardium","v":0},{"s":"Rif 8","r":"Aorta wall","c":"Gall bladder","v":-0.001},{"s":"Rif 8","r":"Aorta wall","c":"Pancreas","v":0.01},
{"s":"Rif 8","r":"Ventricle","c":"Kidney L","v":-0.01},{"s":"Rif 8","r":"Ventricle","c":"Kidney R","v":-0.04},{"s":"Rif 8","r":"Ventricle","c":"Liver","v":-0.28},{"s":"Rif 8","r":"Ventricle","c":"Aorta","v":0.02},{"s":"Rif 8","r":"Ventricle","c":"Aorta wall","v":-0.06},{"s":"Rif 8","r":"Ventricle","c":"Ventricle","v":0},{"s":"Rif 8","r":"Ventricle","c":"Myocardium","v":0.03},{"s":"Rif 8","r":"Ventricle","c":"Gall bladder","v":-0.09},{"s":"Rif 8","r":"Ventricle","c":"Pancreas","v":0.01},
{"s":"Rif 8","r":"Myocardium","c":"Kidney L","v":0.02},{"s":"Rif 8","r":"Myocardium","c":"Kidney R","v":-0.01},{"s":"Rif 8","r":"Myocardium","c":"Liver","v":-0.22},{"s":"Rif 8","r":"Myocardium","c":"Aorta","v":0.06},{"s":"Rif 8","r":"Myocardium","c":"Aorta wall","v":0},{"s":"Rif 8","r":"Myocardium","c":"Ventricle","v":0.03},{"s":"Rif 8","r":"Myocardium","c":"Myocardium","v":0},{"s":"Rif 8","r":"Myocardium","c":"Gall bladder","v":-0.03},{"s":"Rif 8","r":"Myocardium","c":"Pancreas","v":0.02},
{"s":"Rif 8","r":"Gall bladder","c":"Kidney L","v":-0.04},{"s":"Rif 8","r":"Gall bladder","c":"Kidney R","v":-0.01},{"s":"Rif 8","r":"Gall bladder","c":"Liver","v":-0.03},{"s":"Rif 8","r":"Gall bladder","c":"Aorta","v":-0.11},{"s":"Rif 8","r":"Gall bladder","c":"Aorta wall","v":-0.001},{"s":"Rif 8","r":"Gall bladder","c":"Ventricle","v":-0.09},{"s":"Rif 8","r":"Gall bladder","c":"Myocardium","v":-0.03},{"s":"Rif 8","r":"Gall bladder","c":"Gall bladder","v":0},{"s":"Rif 8","r":"Gall bladder","c":"Pancreas","v":-0.02},
{"s":"Rif 8","r":"Pancreas","c":"Kidney L","v":0.02},{"s":"Rif 8","r":"Pancreas","c":"Kidney R","v":0.01},{"s":"Rif 8","r":"Pancreas","c":"Liver","v":-0.14},{"s":"Rif 8","r":"Pancreas","c":"Aorta","v":0},{"s":"Rif 8","r":"Pancreas","c":"Aorta wall","v":0.01},{"s":"Rif 8","r":"Pancreas","c":"Ventricle","v":0.01},{"s":"Rif 8","r":"Pancreas","c":"Myocardium","v":0.02},{"s":"Rif 8","r":"Pancreas","c":"Gall bladder","v":-0.02},{"s":"Rif 8","r":"Pancreas","c":"Pancreas","v":0},

{"s":"Rif 9","r":"Kidney L","c":"Kidney L","v":0},{"s":"Rif 9","r":"Kidney L","c":"Kidney R","v":-0.001},{"s":"Rif 9","r":"Kidney L","c":"Liver","v":0},{"s":"Rif 9","r":"Kidney L","c":"Aorta","v":-0.04},{"s":"Rif 9","r":"Kidney L","c":"Aorta wall","v":-0.08},{"s":"Rif 9","r":"Kidney L","c":"Ventricle","v":-0.01},{"s":"Rif 9","r":"Kidney L","c":"Myocardium","v":-0.001},{"s":"Rif 9","r":"Kidney L","c":"Gall bladder","v":0.02},{"s":"Rif 9","r":"Kidney L","c":"Pancreas","v":0.01},
{"s":"Rif 9","r":"Kidney R","c":"Kidney L","v":-0.001},{"s":"Rif 9","r":"Kidney R","c":"Kidney R","v":0},{"s":"Rif 9","r":"Kidney R","c":"Liver","v":0.01},{"s":"Rif 9","r":"Kidney R","c":"Aorta","v":-0.06},{"s":"Rif 9","r":"Kidney R","c":"Aorta wall","v":-0.09},{"s":"Rif 9","r":"Kidney R","c":"Ventricle","v":-0.01},{"s":"Rif 9","r":"Kidney R","c":"Myocardium","v":-0.01},{"s":"Rif 9","r":"Kidney R","c":"Gall bladder","v":0.01},{"s":"Rif 9","r":"Kidney R","c":"Pancreas","v":0.01},
{"s":"Rif 9","r":"Liver","c":"Kidney L","v":0},{"s":"Rif 9","r":"Liver","c":"Kidney R","v":0.01},{"s":"Rif 9","r":"Liver","c":"Liver","v":0},{"s":"Rif 9","r":"Liver","c":"Aorta","v":-0.1},{"s":"Rif 9","r":"Liver","c":"Aorta wall","v":-0.15},{"s":"Rif 9","r":"Liver","c":"Ventricle","v":-0.04},{"s":"Rif 9","r":"Liver","c":"Myocardium","v":-0.05},{"s":"Rif 9","r":"Liver","c":"Gall bladder","v":0.02},{"s":"Rif 9","r":"Liver","c":"Pancreas","v":0.01},
{"s":"Rif 9","r":"Aorta","c":"Kidney L","v":-0.04},{"s":"Rif 9","r":"Aorta","c":"Kidney R","v":-0.06},{"s":"Rif 9","r":"Aorta","c":"Liver","v":-0.1},{"s":"Rif 9","r":"Aorta","c":"Aorta","v":0},{"s":"Rif 9","r":"Aorta","c":"Aorta wall","v":-0.001},{"s":"Rif 9","r":"Aorta","c":"Ventricle","v":-0.02},{"s":"Rif 9","r":"Aorta","c":"Myocardium","v":-0.01},{"s":"Rif 9","r":"Aorta","c":"Gall bladder","v":-0.02},{"s":"Rif 9","r":"Aorta","c":"Pancreas","v":-0.03},
{"s":"Rif 9","r":"Aorta wall","c":"Kidney L","v":-0.08},{"s":"Rif 9","r":"Aorta wall","c":"Kidney R","v":-0.09},{"s":"Rif 9","r":"Aorta wall","c":"Liver","v":-0.15},{"s":"Rif 9","r":"Aorta wall","c":"Aorta","v":-0.001},{"s":"Rif 9","r":"Aorta wall","c":"Aorta wall","v":0},{"s":"Rif 9","r":"Aorta wall","c":"Ventricle","v":-0.04},{"s":"Rif 9","r":"Aorta wall","c":"Myocardium","v":-0.03},{"s":"Rif 9","r":"Aorta wall","c":"Gall bladder","v":-0.04},{"s":"Rif 9","r":"Aorta wall","c":"Pancreas","v":-0.05},
{"s":"Rif 9","r":"Ventricle","c":"Kidney L","v":-0.01},{"s":"Rif 9","r":"Ventricle","c":"Kidney R","v":-0.01},{"s":"Rif 9","r":"Ventricle","c":"Liver","v":-0.04},{"s":"Rif 9","r":"Ventricle","c":"Aorta","v":-0.02},{"s":"Rif 9","r":"Ventricle","c":"Aorta wall","v":-0.04},{"s":"Rif 9","r":"Ventricle","c":"Ventricle","v":0},{"s":"Rif 9","r":"Ventricle","c":"Myocardium","v":0},{"s":"Rif 9","r":"Ventricle","c":"Gall bladder","v":0.01},{"s":"Rif 9","r":"Ventricle","c":"Pancreas","v":0},
{"s":"Rif 9","r":"Myocardium","c":"Kidney L","v":-0.001},{"s":"Rif 9","r":"Myocardium","c":"Kidney R","v":-0.01},{"s":"Rif 9","r":"Myocardium","c":"Liver","v":-0.05},{"s":"Rif 9","r":"Myocardium","c":"Aorta","v":-0.01},{"s":"Rif 9","r":"Myocardium","c":"Aorta wall","v":-0.03},{"s":"Rif 9","r":"Myocardium","c":"Ventricle","v":0},{"s":"Rif 9","r":"Myocardium","c":"Myocardium","v":0},{"s":"Rif 9","r":"Myocardium","c":"Gall bladder","v":0.01},{"s":"Rif 9","r":"Myocardium","c":"Pancreas","v":0},
{"s":"Rif 9","r":"Gall bladder","c":"Kidney L","v":0.02},{"s":"Rif 9","r":"Gall bladder","c":"Kidney R","v":0.01},{"s":"Rif 9","r":"Gall bladder","c":"Liver","v":0.02},{"s":"Rif 9","r":"Gall bladder","c":"Aorta","v":-0.02},{"s":"Rif 9","r":"Gall bladder","c":"Aorta wall","v":-0.04},{"s":"Rif 9","r":"Gall bladder","c":"Ventricle","v":0.01},{"s":"Rif 9","r":"Gall bladder","c":"Myocardium","v":0.01},{"s":"Rif 9","r":"Gall bladder","c":"Gall bladder","v":0},{"s":"Rif 9","r":"Gall bladder","c":"Pancreas","v":0},
{"s":"Rif 9","r":"Pancreas","c":"Kidney L","v":0.01},{"s":"Rif 9","r":"Pancreas","c":"Kidney R","v":0.01},{"s":"Rif 9","r":"Pancreas","c":"Liver","v":0.01},{"s":"Rif 9","r":"Pancreas","c":"Aorta","v":-0.03},{"s":"Rif 9","r":"Pancreas","c":"Aorta wall","v":-0.05},{"s":"Rif 9","r":"Pancreas","c":"Ventricle","v":0},{"s":"Rif 9","r":"Pancreas","c":"Myocardium","v":0},{"s":"Rif 9","r":"Pancreas","c":"Gall bladder","v":0},{"s":"Rif 9","r":"Pancreas","c":"Pancreas","v":0}
]
},
"spacing": 6,
"columns": 1,
"align": "none",
"concat": [
{
  "title": {"text": "A.", "anchor": "start", "font": "Liberation Sans", "fontSize": 12, "fontWeight": "bold", "offset": 0, "dx": -20},
  "spacing": -22.7,
  "hconcat": [
    {"width": 1, "height": 1, "data": {"values": []}, "mark": {"type": "point", "opacity": 0}, "encoding": {}},
    {
      "data": {"name": "rif"},
      "facet": {"field": "s", "type": "nominal", "title": null, "sort": ["Rif 1","Rif 2","Rif 3","Rif 4","Rif 5","Rif 6","Rif 7","Rif 8","Rif 9"],
        "header": {"labelFont": "DejaVu Sans", "labelFontSize": 9, "labelPadding": 2, "labelColor": "#000"}},
      "columns": 3,
      "spacing": {"column": 10.5, "row": 3},
      "spec": {
        "width": 200, "height": 195,
        "encoding": {
          "x": {"field": "c", "type": "nominal", "title": null,
            "sort": ["Kidney L","Kidney R","Liver","Aorta","Aorta wall","Ventricle","Myocardium","Gall bladder","Pancreas"],
            "scale": {"paddingInner": 0, "paddingOuter": 0},
            "axis": {"domain": false, "tickSize": 3.5, "tickWidth": 0.8, "labelAngle": -90, "labelFont": "DejaVu Sans", "labelFontSize": 7.2, "labelPadding": 2}},
          "y": {"field": "r", "type": "nominal", "title": null,
            "sort": ["Kidney L","Kidney R","Liver","Aorta","Aorta wall","Ventricle","Myocardium","Gall bladder","Pancreas"],
            "scale": {"paddingInner": 0, "paddingOuter": 0},
            "axis": {"domain": false, "tickSize": 3.5, "tickWidth": 0.8, "labelFont": "DejaVu Sans", "labelFontSize": 7.2, "labelPadding": 2, "minExtent": 50}}
        },
        "layer": [
          {"mark": {"type": "rect"},
           "encoding": {"color": {"field": "v", "type": "quantitative", "legend": null,
             "scale": {"type": "threshold", "domain": [-0.179], "range": ["#440154", "#24a085"]}}}},
          {"mark": {"type": "text", "font": "DejaVu Sans", "fontSize": 7.2, "color": "#ffffff"},
           "encoding": {"text": {"condition": {"test": "datum.v < 0 && datum.v > -0.005", "value": "-0.00"}, "field": "v", "type": "quantitative", "format": ".2f"}}}
        ]
      }
    }
  ]
},
{
  "title": {"text": "B.", "anchor": "start", "font": "Liberation Sans", "fontSize": 12, "fontWeight": "bold", "offset": -14},
  "spacing": 20,
  "hconcat": [
    {
      "data": {"name": "hist"},
      "title": {"text": "ΔPCC distribution", "frame": "group", "anchor": "middle", "font": "Liberation Sans", "fontSize": 13, "fontWeight": "normal", "offset": 5},
      "width": 392.6, "height": 219,
      "view": {"stroke": "#333", "strokeWidth": 0.8},
      "mark": {"type": "bar", "color": "#1f77b4"},
      "encoding": {
        "x": {"field": "b0", "type": "quantitative", "title": "ΔPCC",
          "scale": {"domain": [-0.4497, 0.1276], "nice": false, "zero": false},
          "axis": {"values": [-0.4, -0.3, -0.2, -0.1, 0, 0.1], "format": ".1f", "labelExpr": "replace(datum.label, '-', '−')", "domain": false, "tickSize": 3.5, "labelFont": "Liberation Sans", "labelFontSize": 10.5, "titleFont": "Liberation Sans", "titleFontSize": 11, "labelPadding": 3, "titlePadding": 3}},
        "x2": {"field": "b1"},
        "y": {"field": "n", "type": "quantitative", "title": "Frequency",
          "scale": {"domain": [0, 255.15], "nice": false},
          "axis": {"values": [0, 50, 100, 150, 200, 250], "domain": false, "tickSize": 3.5, "labelFont": "Liberation Sans", "labelFontSize": 10.5, "titleFont": "Liberation Sans", "titleFontSize": 11, "labelPadding": 3, "titlePadding": 6, "minExtent": 25}},
        "y2": {"datum": 0}
      }
    },
    {
      "title": {"text": "C.", "anchor": "start", "font": "Liberation Sans", "fontSize": 12, "fontWeight": "bold", "offset": -14, "dx": 69},
      "vconcat": [
        {
          "data": {"name": "avg"},
          "title": {"text": "Average ΔPCC network", "frame": "group", "anchor": "middle", "font": "Liberation Sans", "fontSize": 13, "fontWeight": "normal", "offset": 7},
          "width": 207, "height": 193.5,
          "encoding": {
            "x": {"field": "c", "type": "nominal", "title": null,
              "sort": ["Kidney L","Kidney R","Liver","Aorta","Aorta wall","Ventricle","Myocardium","Gall bladder","Pancreas"],
              "scale": {"paddingInner": 0, "paddingOuter": 0},
              "axis": {"domain": false, "tickSize": 3.5, "tickWidth": 0.8, "labelAngle": -90, "labelFont": "DejaVu Sans", "labelFontSize": 7.2, "labelPadding": 2}},
            "y": {"field": "r", "type": "nominal", "title": null,
              "sort": ["Kidney L","Kidney R","Liver","Aorta","Aorta wall","Ventricle","Myocardium","Gall bladder","Pancreas"],
              "scale": {"paddingInner": 0, "paddingOuter": 0},
              "axis": {"domain": false, "tickSize": 3.5, "tickWidth": 0.8, "labelFont": "DejaVu Sans", "labelFontSize": 7.2, "labelPadding": 2, "minExtent": 50}}
          },
          "layer": [
            {"mark": {"type": "rect"},
             "encoding": {"color": {"field": "v", "type": "quantitative", "legend": null,
               "scale": {"scheme": "viridis", "domain": [-0.16, 0]}}}},
            {"mark": {"type": "text", "font": "DejaVu Sans", "fontSize": 7.2},
             "encoding": {
               "text": {"field": "v", "type": "quantitative", "format": ".2f"},
               "color": {"condition": {"test": "datum.v < -0.045", "value": "#ffffff"}, "value": "#262626"}}}
          ]
        }
      ]
    }
  ]
}
]
}
